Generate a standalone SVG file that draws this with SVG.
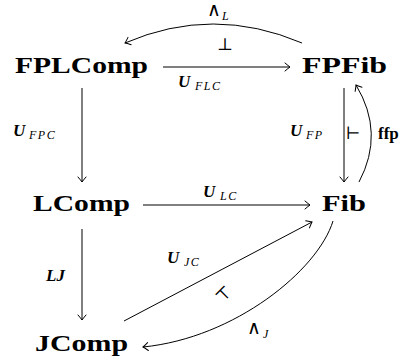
<svg xmlns="http://www.w3.org/2000/svg" width="405" height="360" viewBox="0 0 405 360">
  <defs>
    <style>
      text { font-family: 'Liberation Serif', 'DejaVu Serif', serif; fill: #000; }
      .obj { font-weight: bold; font-size: 24px; }
      .U { font-weight: bold; font-style: italic; font-size: 17px; }
      .sub { font-style: italic; font-size: 12px; letter-spacing: 1.5px; }
      .sym { font-size: 17px; }
      .wedge { font-size: 19px; }
      .bold { font-weight: bold; font-size: 17px; }
      .edge { fill: none; stroke: #000; stroke-width: 1; }
    </style>
    <!-- curved-barb arrow tip -->
    <marker id="to" viewBox="-6 -5 8 10" markerWidth="8" markerHeight="10" refX="0" refY="0" orient="auto" markerUnits="userSpaceOnUse">
      <path d="M-5,-4 Q-1.5,-1 0,0 Q-1.5,1 -5,4" fill="none" stroke="#000" stroke-width="1" stroke-linecap="round"/>
    </marker>
  </defs>
  <rect width="405" height="360" fill="#fff"/>

  <!-- connectors -->
  <g id="connectors">
    <!-- FPLComp -> FPFib -->
    <line class="edge" x1="163" y1="67" x2="290" y2="67" marker-end="url(#to)"/>
    <text class="sym" x="225" y="50" text-anchor="middle">⊥</text>
    <text class="U" x="178" y="87">U</text><text class="sub" x="195" y="90">FLC</text>
    <!-- FPFib -> FPLComp (wedge_L) -->
    <path class="edge" d="M302,43 Q213,5 125,43" marker-end="url(#to)"/>
    <text class="wedge" x="207" y="16">∧</text><text class="sub" x="222" y="20">L</text>
    <!-- FPLComp -> LComp -->
    <line class="edge" x1="82" y1="88" x2="82" y2="182" marker-end="url(#to)"/>
    <text class="U" x="13" y="136">U</text><text class="sub" x="29" y="139">FPC</text>
    <!-- FPFib -> Fib -->
    <line class="edge" x1="344" y1="88" x2="344" y2="182" marker-end="url(#to)"/>
    <text class="U" x="290" y="136">U</text><text class="sub" x="306" y="139">FP</text>
    <text class="sym" x="353" y="139" text-anchor="middle">⊢</text>
    <!-- Fib -> FPFib (ffp) -->
    <path class="edge" d="M359,182 Q385,133 356,85" marker-end="url(#to)"/>
    <text class="bold" x="378" y="139">ffp</text>
    <!-- LComp -> Fib -->
    <line class="edge" x1="143" y1="205" x2="310" y2="205" marker-end="url(#to)"/>
    <text class="U" x="203" y="197">U</text><text class="sub" x="220" y="200">LC</text>
    <!-- LComp -> JComp -->
    <line class="edge" x1="82" y1="229" x2="82" y2="320" marker-end="url(#to)"/>
    <text class="U" x="46" y="281">LJ</text>
    <!-- JComp -> Fib -->
    <line class="edge" x1="124" y1="321" x2="312" y2="222" marker-end="url(#to)"/>
    <text class="U" x="167" y="263">U</text><text class="sub" x="184" y="266">JC</text>
    <text class="sym" x="0" y="0" text-anchor="middle" transform="translate(228,298) rotate(-45)">⊤</text>
    <!-- Fib -> JComp (wedge_J) -->
    <path class="edge" d="M333,221 C318,270 235,338 143,347" marker-end="url(#to)"/>
    <text class="wedge" x="247" y="334">∧</text><text class="sub" x="263" y="338">J</text>
  </g>

  <!-- nodes -->
  <g id="FPLComp"><text class="obj" x="15" y="73" textLength="133" lengthAdjust="spacingAndGlyphs">FPLComp</text></g>
  <g id="FPFib"><text class="obj" x="302" y="73" textLength="85" lengthAdjust="spacingAndGlyphs">FPFib</text></g>
  <g id="LComp"><text class="obj" x="33" y="211" textLength="97" lengthAdjust="spacingAndGlyphs">LComp</text></g>
  <g id="Fib"><text class="obj" x="322" y="211" textLength="44" lengthAdjust="spacingAndGlyphs">Fib</text></g>
  <g id="JComp"><text class="obj" x="35" y="351" textLength="93" lengthAdjust="spacingAndGlyphs">JComp</text></g>
</svg>
